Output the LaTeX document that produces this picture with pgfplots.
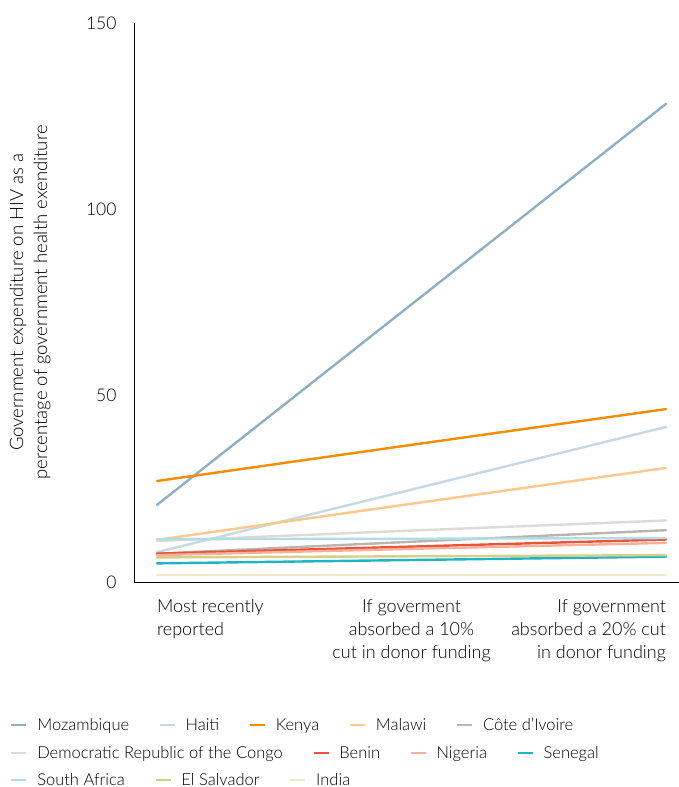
\documentclass[border=0pt]{standalone}
\usepackage{pgfplots}
\pgfplotsset{compat=1.18}
\usepackage{fontspec}
\setmainfont{Lato}[UprightFont=* Light]
\definecolor{cMoz}{HTML}{8DB0C2}
\definecolor{cHai}{HTML}{C5D9E3}
\definecolor{cKen}{HTML}{F28C00}
\definecolor{cMal}{HTML}{FCC88C}
\definecolor{cCIV}{HTML}{BDB3AE}
\definecolor{cDRC}{HTML}{DEDAD8}
\definecolor{cBen}{HTML}{E8543A}
\definecolor{cNig}{HTML}{F7AF9A}
\definecolor{cSen}{HTML}{1BB5C4}
\definecolor{cSAf}{HTML}{B0DDE3}
\definecolor{cElS}{HTML}{D6CF8A}
\definecolor{cInd}{HTML}{EFE8C4}
\pgfplotsset{
  common/.style={
    at={(0pt,0pt)}, anchor=south west,
    scale only axis, width=545pt, height=559pt,
    xmin=-0.0904, xmax=2.051, ymin=0, ymax=150,
  },
  legrow/.style={
    common, hide axis,
    legend columns=-1,
    legend cell align=left,
    legend image code/.code={\draw[##1,line width=2.6pt] (0pt,0pt) -- (15pt,0pt);},
    legend style={draw=none, fill=none, at={(axis description cs:0,0)}, anchor=west,
      xshift=-127pt, yshift=#1,
      font=\fontsize{16.5}{19}\selectfont,
      nodes={inner sep=0pt},
      /tikz/every odd column/.append style={column sep=9.5pt},
      /tikz/every even column/.append style={column sep=29.5pt}},
  },
}
\begin{document}
\begin{tikzpicture}
\begin{axis}[
  common,
  axis lines*=left,
  axis line style={black, line width=0.8pt},
  xtick={0,1,2},
  major tick length=0pt,
  ytick={0,50,100,150},
  /pgf/number format/assume math mode=true,
  yticklabel style={font=\fontsize{17.5}{20}\selectfont, xshift=-14pt},
  xticklabel style={font=\fontsize{18}{23}\selectfont, yshift=-11pt, anchor=north},
  xticklabels={
    {\makebox[0pt][l]{\begin{tabular}{@{}l@{}}Most recently\\reported\end{tabular}}},
    {\begin{tabular}{@{}c@{}}If goverment\\absorbed a 10\%\\cut in donor funding\end{tabular}},
    {\makebox[0pt][r]{\begin{tabular}{@{}r@{}}If government\\absorbed a 20\% cut\\in donor funding\end{tabular}}}
  },
  ylabel={Government expenditure on HIV as a\\percentage of government health exenditure},
  ylabel style={at={(axis description cs:-0.1908,0.5)}, anchor=center, align=center,
    font=\fontsize{18.5}{24}\selectfont},
  every axis plot/.append style={line width=2.4pt, line cap=round},
]
\addplot[cMoz] coordinates {(0,20.7) (1,74.5) (2,128.3)};
\addplot[cHai] coordinates {(0,8.0) (1,24.8) (2,41.6)};
\addplot[cKen] coordinates {(0,27.1) (1,36.8) (2,46.4)};
\addplot[cMal] coordinates {(0,11.3) (1,21.0) (2,30.6)};
\addplot[cCIV] coordinates {(0,7.6) (1,10.8) (2,13.9)};
\addplot[cDRC] coordinates {(0,11.0) (1,13.8) (2,16.5)};
\addplot[cBen] coordinates {(0,7.6) (1,9.5) (2,11.4)};
\addplot[cNig] coordinates {(0,7.2) (1,8.9) (2,10.5)};
\addplot[cSen] coordinates {(0,5.0) (1,5.9) (2,6.8)};
\addplot[cSAf] coordinates {(0,11.5) (1,11.6) (2,11.8)};
\addplot[cElS] coordinates {(0,6.6) (1,6.9) (2,7.2)};
\addplot[cInd] coordinates {(0,1.9) (1,1.9) (2,1.9)};
\end{axis}
\begin{axis}[legrow=-143pt]
\addlegendimage{cMoz}\addlegendentry{Mozambique}
\addlegendimage{cHai}\addlegendentry{Haiti}
\addlegendimage{cKen}\addlegendentry{Kenya}
\addlegendimage{cMal}\addlegendentry{Malawi}
\addlegendimage{cCIV}\addlegendentry{Côte d'Ivoire}
\end{axis}
\begin{axis}[legrow=-171pt]
\addlegendimage{cDRC}\addlegendentry{Democratic Republic of the Congo}
\addlegendimage{cBen}\addlegendentry{Benin}
\addlegendimage{cNig}\addlegendentry{Nigeria}
\addlegendimage{cSen}\addlegendentry{Senegal}
\end{axis}
\begin{axis}[legrow=-198pt]
\addlegendimage{cSAf}\addlegendentry{South Africa}
\addlegendimage{cElS}\addlegendentry{El Salvador}
\addlegendimage{cInd}\addlegendentry{India}
\end{axis}
\pgfresetboundingbox
\path[use as bounding box] (-134pt,-205pt) rectangle (545pt,582pt);
\end{tikzpicture}
\end{document}
